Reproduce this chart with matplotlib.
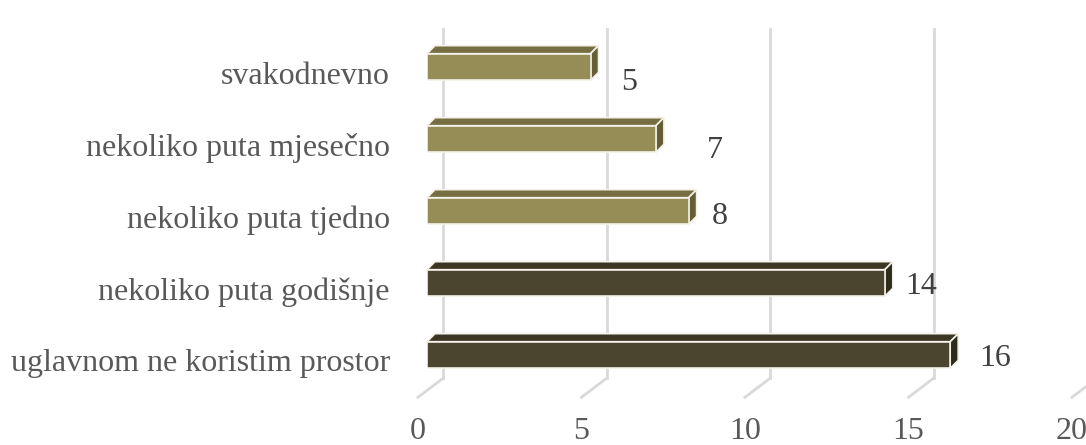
import matplotlib.pyplot as plt
from matplotlib.patches import Polygon

categories = ["uglavnom ne koristim prostor", "nekoliko puta godišnje",
              "nekoliko puta tjedno", "nekoliko puta mjesečno", "svakodnevno"]
values = [16, 14, 8, 7, 5]
ticks = [0, 5, 10, 15, 20]

# label nudges (pixels right, pixels down) measured from the bar end
label_nudge = [(37, 3), (28, 4), (23, 6), (51, 12), (31, 16)]

W, H = 1086, 445
plt.rcParams['font.family'] = ['Liberation Serif', 'DejaVu Serif']

fig = plt.figure(figsize=(W / 100, H / 100), dpi=100)
ax = fig.add_axes([427 / W, (H - 391) / H, 654 / W, 360 / H])
ax.set_xlim(0, 20)
ax.set_ylim(-0.5, 4.5)
ax.axis("off")

px = 654 / 20   # pixels per x unit
py = 72         # pixels per y unit


def dx(p):
    return p / px


def dy(p):
    return p / py


grid_c = "#d9d9d9"
bar_h = 0.37
depth = (8, 8)
back = (16, 12)
front = (-9, -7)
floor_y = -0.49
wall_top = 4.53
fs = 23

for t in ticks:
    xb = t + dx(back[0])
    yb = floor_y + dy(back[1])
    ax.plot([xb, xb], [yb, wall_top], color=grid_c, lw=2, zorder=1, clip_on=False)
    ax.plot([xb, t + dx(front[0])], [yb, floor_y + dy(front[1])],
            color=grid_c, lw=2, zorder=1, clip_on=False)
    ax.text(t + dx(front[0]), floor_y + dy(-41), str(t), ha="center", va="center",
            fontsize=fs, color="#595959", clip_on=False)

edge = "#f3f1e8"
for i, (cat, v) in enumerate(zip(categories, values)):
    if v >= 10:
        fc, tc, sc = "#4b4530", "#3b3624", "#2f2c1c"
    else:
        fc, tc, sc = "#968c56", "#766d42", "#655d36"
    top = i + bar_h / 2
    bot = i - bar_h / 2
    ddx, ddy = dx(depth[0]), dy(depth[1])
    ax.add_patch(Polygon([(0, top), (v, top), (v + ddx, top + ddy), (ddx, top + ddy)],
                         closed=True, fc=tc, ec=edge, lw=1.2, zorder=3, clip_on=False))
    ax.add_patch(Polygon([(v, bot), (v, top), (v + ddx, top + ddy), (v + ddx, bot + ddy)],
                         closed=True, fc=sc, ec=edge, lw=1.2, zorder=3, clip_on=False))
    ax.barh(i, v, height=bar_h, color=fc, edgecolor=edge, lw=1.2, zorder=4)

    nx, ny = label_nudge[i]
    ax.text(v + ddx + dx(nx), i - dy(ny), str(v), ha="center", va="center",
            fontsize=fs, color="#404040", clip_on=False)
    ax.text(dx(-37), i - dy(9), cat, ha="right", va="center",
            fontsize=fs, color="#595959", clip_on=False)

fig.savefig("out.png", dpi=100)
